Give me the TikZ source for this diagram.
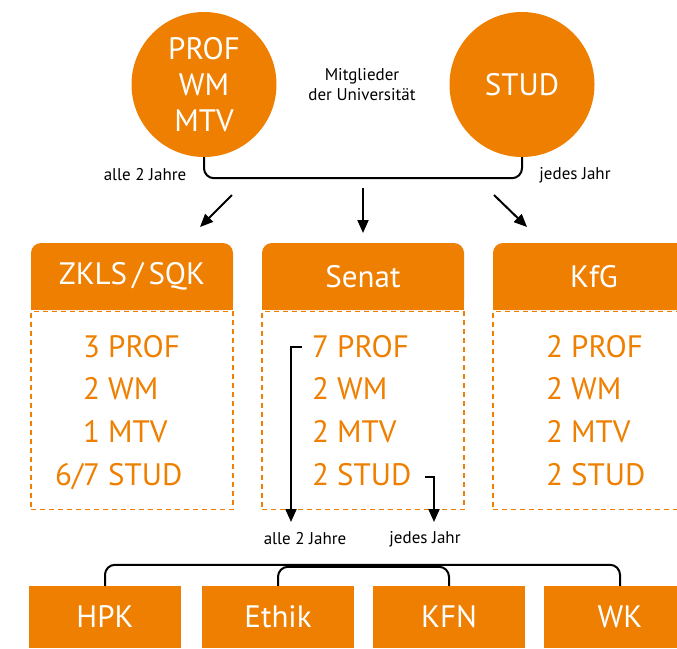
\documentclass[tikz,border=0pt]{standalone}
\usepackage{fontspec}
\setmainfont{PT Sans}
\usetikzlibrary{arrows.meta,backgrounds}
\definecolor{uniorange}{RGB}{238,127,0}
\tikzset{
	big/.style={font=\fontsize{31}{36}\selectfont},
	circ/.style={big, circle, fill=uniorange, text=white, minimum size=145, inner sep=0, align=center},
	head/.style={big, fill=uniorange, rounded corners=10, text=white, minimum width=202, minimum height=67, inner sep=0},
	body/.style={draw=uniorange, line width=1.8, dash pattern=on 5pt off 4pt, minimum width=202, minimum height=198, inner sep=0},
	member/.style={big, anchor=base west, text=uniorange, inner sep=0},
	gremium/.style={big, fill=uniorange, text=white, minimum width=152, minimum height=62, inner sep=0},
	note/.style={font=\fontsize{17}{20}\selectfont, align=center, inner sep=0},
	link/.style={line width=2, rounded corners=10},
	arr/.style={line width=2, -{Triangle[length=13pt,width=11pt]}}
}
\begin{document}
\begin{tikzpicture}[x=1pt,y=-1pt]
	\clip (0,0) rectangle (677,648);

	% circles
	\node[circ] (prof) at (204,84.5){PROF\\WM\\MTV};
	\node[circ] (stud) at (522,84.5){STUD};
	\node[note] (mitgl) at (362,85){Mitglieder\\der Universit\"at};
	\draw [link] (prof.south) -- ++(0,21) -| (stud.south);

	% label
	\node[note] (alle1) at (145,175){alle 2 Jahre};
	\node[note] (jedes1) at (575,175){jedes Jahr};

	% headers
	\node[head] (zklsh) at (132,276.5){ZKLS\,/\,SQK};
	\node[head] (senath) at (363,276.5){Senat};
	\node[head] (kfgh) at (594,276.5){KfG};
	\begin{scope}[on background layer]
		\fill [uniorange] (zklsh.west) rectangle (zklsh.south east);
		\fill [uniorange] (senath.west) rectangle (senath.south east);
		\fill [uniorange] (kfgh.west) rectangle (kfgh.south east);
	\end{scope}
	\node[body] (zklsb) at (132,410.5){};
	\node[body] (senatb) at (363,410.5){};
	\node[body] (kfgb) at (594,410.5){};

	%-
	\coordinate (a1) at (232,195);
	\coordinate (a1e) at (200,227);
	\coordinate (a2) at (363,188);
	\coordinate (a2e) at (363,233);
	\coordinate (a3) at (494,195);
	\coordinate (a3e) at (527,227);
	\draw [arr] (a1) -- (a1e);
	\draw [arr] (a2) -- (a2e);
	\draw [arr] (a3) -- (a3e);

	% ZKLS / SQK
	\node[member] (z1) at (108,357){\llap{3\ }PROF};
	\node[member] (z2) at (108,399){\llap{2\ }WM};
	\node[member] (z3) at (108,442){\llap{1\ }MTV};
	\node[member] (z4) at (108,485){\llap{6/7\ }STUD};
	% Senat
	\node[member] (s1) at (337,357){\llap{7\ }PROF};
	\node[member] (s2) at (337,399){\llap{2\ }WM};
	\node[member] (s3) at (337,442){\llap{2\ }MTV};
	\node[member] (s4) at (337,485){\llap{2\ }STUD};
	% KfG
	\node[member] (k1) at (571,357){\llap{2\ }PROF};
	\node[member] (k2) at (571,399){\llap{2\ }WM};
	\node[member] (k3) at (571,442){\llap{2\ }MTV};
	\node[member] (k4) at (571,485){\llap{2\ }STUD};

	% |
	\coordinate (b1) at (302,347);
	\coordinate (b1e) at (291,522);
	\coordinate (b2) at (425,477);
	\coordinate (b2e) at (434,522);
	\draw [arr] (b1) -| (b1e);
	\draw [arr] (b2) -| (b2e);

	\node[note] (alle2) at (305,539){alle 2 Jahre};
	\node[note] (jedes2) at (425,539){jedes Jahr};

	% committees
	\node[gremium] (hpk) at (105,617){HPK};
	\node[gremium] (ethik) at (278,617){Ethik};
	\node[gremium] (kfn) at (449,617){KFN};
	\node[gremium] (wk) at (620,617){WK};
	\draw [link] (hpk.north) -- ++(0,-21) -| (wk.north);
	\draw [link] (ethik.north) -- ++(0,-19) -| (kfn.north);
\end{tikzpicture}
\end{document}
